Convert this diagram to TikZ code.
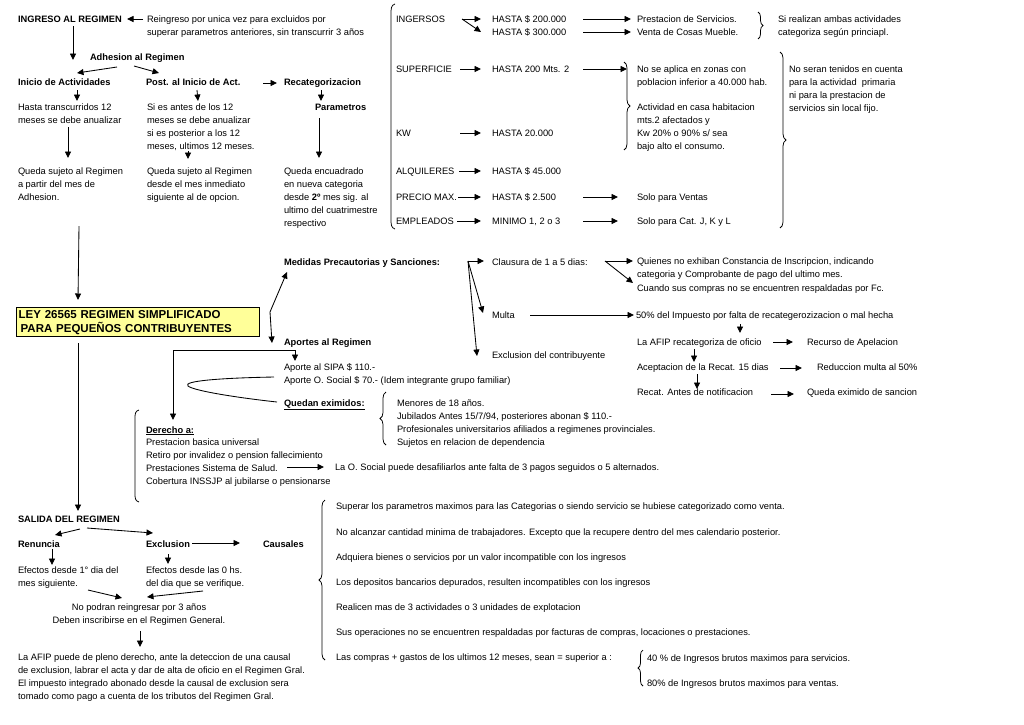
\documentclass[tikz,border=0pt]{standalone}
\usepackage{fontspec}
\setmainfont{Liberation Sans}
\usetikzlibrary{arrows.meta,decorations.pathreplacing}
\newcommand{\nfs}{\fontsize{9.3}{13}\selectfont}
\newcommand{\ml}[1]{\begin{tabular}[t]{@{}l@{}}#1\end{tabular}}
\newcommand{\mc}[1]{\begin{tabular}[t]{@{}c@{}}#1\end{tabular}}
\definecolor{leyfill}{HTML}{FFFF99}
\begin{document}
\begin{tikzpicture}[x=1pt,y=-1pt,line width=0.85pt,
  t/.style={anchor=base west,inner sep=0pt,outer sep=0pt,font=\nfs},
  tb/.style={t,font=\nfs\bfseries},
  arr/.style={-{Triangle[length=6.5pt,width=6pt]}},
  brc/.style={decorate,decoration={brace,amplitude=#1},line width=0.75pt},
]
\fill[white] (0,0) rectangle (1024,724);
\useasboundingbox (0,0) rectangle (1024,724);

% ---------------- top left ----------------
\node[tb] (ingreso) at (18,22) {INGRESO AL REGIMEN};
\node[t] (reing) at (147,22) {\ml{Reingreso por unica vez para excluidos por\\superar parametros anteriores, sin transcurrir 3 años}};
\node[tb] (adh) at (90,60) {Adhesion al Regimen};
\node[tb] (inicio) at (18,85) {Inicio de Actividades};
\node[tb] (post) at (146,85) {Post. al Inicio de Act.};
\node[tb] (recat) at (284,85) {Recategorizacion};
\node[t] (hasta) at (18,110) {\ml{Hasta transcurridos 12\\meses se debe anualizar}};
\node[t] (siantes) at (147,110) {\ml{Si es antes de los 12\\meses se debe anualizar\\si es posterior a los 12\\meses, ultimos 12 meses.}};
\node[tb] (param) at (315,110) {Parametros};
\node[t] (qs1) at (18,174) {\ml{Queda sujeto al Regimen\\a partir del mes de\\Adhesion.}};
\node[t] (qs2) at (147,174) {\ml{Queda sujeto al Regimen\\desde el mes inmediato\\siguiente al de opcion.}};
\node[t] (qenc) at (284,174) {\ml{Queda encuadrado\\en nueva categoria\\desde \textbf{2º} mes sig. al\\ultimo del cuatrimestre\\respectivo}};

\draw[arr] ([shift={(-4,-3)}]reing.base west) -- ([shift={(109,-3)}]ingreso.base west);
\draw[arr] ([shift={(55,4)}]ingreso.base west) -- ([shift={(55,-25)}]inicio.base west);
\draw[arr] ([shift={(27,7)}]adh.base west) -- ([shift={(59,-12)}]inicio.base west);
\draw[arr] ([shift={(44,6)}]adh.base west) -- ([shift={(13,-12)}]post.base west);
\draw[arr] ([shift={(117,-2)}]post.base west) -- ([shift={(-7,-2)}]recat.base west);
\draw[arr] ([shift={(59,5)}]inicio.base west) -- ([shift={(59,-9)}]hasta.base west);
\draw[arr] ([shift={(51,5)}]post.base west) -- ([shift={(51,-9)}]siantes.base west);
\draw[arr] ([shift={(37,5)}]recat.base west) -- ([shift={(6,-9)}]param.base west);
\draw[arr] ([shift={(50,17)}]hasta.base west) -- ([shift={(50,-16)}]qs1.base west);
\draw[arr] ([shift={(41,41)}]siantes.base west) -- ([shift={(41,-15)}]qs2.base west);
\draw[arr] ([shift={(4,8)}]param.base west) -- ([shift={(35,-16)}]qenc.base west);

% ---------------- LEY box ----------------
\node[draw,line width=1.3pt,fill=leyfill,anchor=north west,minimum width=243pt,minimum height=29pt,
  inner sep=0pt,text width=239pt,align=left,font=\fontsize{11.5}{14}\selectfont\bfseries] (ley) at (16,307)
  {LEY 26565 REGIMEN SIMPLIFICADO\\\hspace*{2pt}PARA PEQUEÑOS CONTRIBUYENTES};
\draw[arr] ([shift={(61,52)}]qs1.base west) -- ([shift={(62,-7)}]ley.north west);

% ---------------- parameters column ----------------
\draw[line width=0.75pt] (395,4) .. controls (391,5) and (391,9) .. (391,14) -- (391,219) .. controls (391,224) and (391,228) .. (395,229);
\node[t] (ingersos) at (396,22) {INGERSOS};
\node[t] (h200) at (492,22) {HASTA \$ 200.000};
\node[t] (h300) at (492,35) {HASTA \$ 300.000};
\node[t] (prest) at (637,22) {Prestacion de Servicios.};
\node[t] (venta) at (637,35) {Venta de Cosas Mueble.};
\node[t] (sireal) at (778,22) {\ml{Si realizan ambas actividades\\categoriza según princiapl.}};
\node[t] (superf) at (396,72) {SUPERFICIE};
\node[t] (h200m) at (492,72) {HASTA 200 Mts. 2};
\node[t] (noapl) at (637,72) {\ml{No se aplica en zonas con\\poblacion inferior a 40.000 hab.}};
\node[t] (activ) at (637,110) {\ml{Actividad en casa habitacion\\mts.2 afectados y\\Kw 20\% o 90\% s/ sea\\bajo alto el consumo.}};
\node[t] (kw) at (396,136) {KW};
\node[t] (h20k) at (492,136) {HASTA 20.000};
\node[t] (alq) at (396,174) {ALQUILERES};
\node[t] (h45) at (492,174) {HASTA \$ 45.000};
\node[t] (precio) at (396,200) {PRECIO MAX.};
\node[t] (h2500) at (492,200) {HASTA \$ 2.500};
\node[t] (ventas) at (637,200) {Solo para Ventas};
\node[t] (empl) at (396,224) {EMPLEADOS};
\node[t] (minimo) at (492,224) {MINIMO 1, 2 o 3};
\node[t] (catj) at (637,224) {Solo para Cat. J, K y L};
\node[t] (noseran) at (789,72) {\ml{No seran tenidos en cuenta\\para la actividad \ primaria\\ni para la prestacion de\\servicios sin local fijo.}};

\draw[arr] ([shift={(66,-3)}]ingersos.base west) -- ([shift={(-11,-3)}]h200.base west);
\draw[arr] ([shift={(66,-3)}]ingersos.base west) -- ([shift={(-11,-3)}]h300.base west);
\draw[arr] ([shift={(91,-3)}]h200.base west) -- ([shift={(-6,-3)}]prest.base west);
\draw[arr] ([shift={(91,-3)}]h300.base west) -- ([shift={(-6,-3)}]venta.base west);
\draw[arr] ([shift={(64,-3)}]superf.base west) -- ([shift={(-11,-3)}]h200m.base west);
\draw[arr] ([shift={(91,-3)}]h200m.base west) -- ([shift={(-10,-3)}]noapl.base west);
\draw[arr] ([shift={(64,-3)}]kw.base west) -- ([shift={(-11,-3)}]h20k.base west);
\draw[arr] ([shift={(63,-3)}]alq.base west) -- ([shift={(-11,-3)}]h45.base west);
\draw[arr] ([shift={(62,-3)}]precio.base west) -- ([shift={(-11,-3)}]h2500.base west);
\draw[arr] ([shift={(91,-3)}]h2500.base west) -- ([shift={(-19,-3)}]ventas.base west);
\draw[arr] ([shift={(61,-3)}]empl.base west) -- ([shift={(-11,-3)}]minimo.base west);
\draw[arr] ([shift={(91,-3)}]minimo.base west) -- ([shift={(-19,-3)}]catj.base west);

\draw[brc=5] (758,12) -- (758,39);
\draw[brc=6] (624,62) -- (624,150);
\draw[brc=6] (780,52) -- (780,228);

% ---------------- medidas / aportes ----------------
\coordinate (z) at (270,312);
\node[tb] (medidas) at (284,265) {Medidas Precautorias y Sanciones:};
\node[tb] (aportes) at (284,345) {Aportes al Regimen};
\node[t] (sipa) at (284,370) {\ml{Aporte al SIPA \$ 110.-\\Aporte O. Social \$ 70.- (Idem integrante grupo familiar)}};
\node[tb] (eximidos) at (284,406) {\underline{Quedan eximidos:}};
\node[t] (menores) at (397,406) {\ml{Menores de 18 años.\\Jubilados Antes 15/7/94, posteriores abonan \$ 110.-\\Profesionales universitarios afiliados a regimenes provinciales.\\Sujetos en relacion de dependencia}};
\draw[brc=6] (386,445) -- (386,392);

\draw[arr] (z) -- ([shift={(3,7)}]medidas.base west);
\draw[arr] (z) -- ([shift={(-12,-2)}]aportes.base west);

\node[tb] (derecho) at (146,433) {\underline{Derecho a:}};
\node[t] (dlist) at (146,445) {\ml{Prestacion basica universal\\Retiro por invalidez o pension fallecimiento\\Prestaciones Sistema de Salud.\\Cobertura INSSJP al jubilarse o pensionarse}};
\node[t] (osocial) at (335,470) {La O. Social puede desafiliarlos ante falta de 3 pagos seguidos o 5 alternados.};
\draw[line width=0.75pt] (139,410) .. controls (135,411) and (135,414) .. (135,419) -- (135,493) .. controls (135,498) and (135,501) .. (139,502);

\coordinate (jn) at ([shift={(11,5)}]aportes.base west);
\draw[arr] (jn) -- ([shift={(11,-9)}]sipa.base west);
\draw[arr] (jn) -| ([shift={(27,-13)}]derecho.base west);
\draw ([shift={(-10,7)}]sipa.base west) .. controls (220,378) and (182,381) .. (188,386)
      .. controls (194,391) and (240,398) .. ([shift={(-7,-4)}]eximidos.base west);
\draw[arr] ([shift={(141,22)}]dlist.base west) -- ([shift={(-11,-3)}]osocial.base west);

% ---------------- sanciones ----------------
\node[t] (clausura) at (492,265) {Clausura de 1 a 5 dias:};
\node[t] (multa) at (492,318) {Multa};
\node[t] (exclc) at (492,358) {Exclusion del contribuyente};
\node[t] (quienes) at (637,264) {\ml{Quienes no exhiban Constancia de Inscripcion, indicando\\categoria y Comprobante de pago del ultimo mes.}};
\node[t] (cuando) at (637,291) {Cuando sus compras no se encuentren respaldadas por Fc.};
\node[t] (pct50) at (636,318) {50\% del Impuesto por falta de recategerozizacion o mal hecha};
\node[t] (afip) at (637,345) {La AFIP recategoriza de oficio};
\node[t] (recurso) at (807,345) {Recurso de Apelacion};
\node[t] (acept) at (637,370) {Aceptacion de la Recat. 15 dias};
\node[t] (reduc) at (817,370) {Reduccion multa al 50\%};
\node[t] (recant) at (637,395) {Recat. Antes de notificacion};
\node[t] (queda) at (807,395) {Queda eximido de sancion};

\coordinate (mo) at ([shift={(184,-4)}]medidas.base west);
\draw[arr] (mo) -- ([shift={(-8,-4)}]clausura.base west);
\draw[arr] (mo) -- ([shift={(-9,-5)}]multa.base west);
\draw[arr] (mo) -- ([shift={(-15,-2)}]exclc.base west);
\coordinate (qo) at ([shift={(113,-4)}]clausura.base west);
\draw[arr] (qo) -- ([shift={(-4,-3)}]quienes.base west);
\draw[arr] (qo) -- ([shift={(-4,-8)}]cuando.base west);
\draw[arr] ([shift={(38,-3)}]multa.base west) -- ([shift={(-2,-3)}]pct50.base west);
\draw[arr] ([shift={(104,6)}]pct50.base west) -- ([shift={(103,-12)}]afip.base west);
\draw[arr] ([shift={(136,-3)}]afip.base west) -- ([shift={(-14,-3)}]recurso.base west);
\draw[arr] ([shift={(57,4)}]afip.base west) -- ([shift={(57,-8)}]acept.base west);
\draw[arr] ([shift={(143,-2)}]acept.base west) -- ([shift={(-15,-2)}]reduc.base west);
\draw[arr] ([shift={(60,4)}]acept.base west) -- ([shift={(60,-6)}]recant.base west);
\draw[arr] ([shift={(134,-1)}]recant.base west) -- ([shift={(-13,-1)}]queda.base west);

% ---------------- salida ----------------
\node[tb] (salida) at (18,522) {SALIDA DEL REGIMEN};
\node[tb] (renuncia) at (18,547) {Renuncia};
\node[tb] (exclu) at (146,547) {Exclusion};
\node[tb] (causales) at (263,547) {Causales};
\node[t] (ef1) at (18,573) {\ml{Efectos desde 1° dia del\\mes siguiente.}};
\node[t] (ef2) at (146,573) {\ml{Efectos desde las 0 hs.\\del dia que se verifique.}};
\node[t,anchor=base] (nopod) at (139,610) {\mc{No podran reingresar por 3 años\\Deben inscribirse en el Regimen General.}};
\node[t] (lafip) at (18,660) {\ml{La AFIP puede de pleno derecho, ante la deteccion de una causal\\de exclusion, labrar el acta y dar de alta de oficio en el Regimen Gral.\\El impuesto integrado abonado desde la causal de exclusion sera\\tomado como pago a cuenta de los tributos del Regimen Gral.}};

\draw[arr] ([shift={(62,6)}]ley.south west) -- ([shift={(60,-11)}]salida.base west);
\draw[arr] ([shift={(62,7)}]salida.base west) -- ([shift={(37,-12)}]renuncia.base west);
\draw[arr] ([shift={(69,6)}]salida.base west) -- ([shift={(7,-14)}]exclu.base west);
\draw[arr] ([shift={(46,-4)}]exclu.base west) -- ([shift={(-23,-4)}]causales.base west);
\draw[arr] ([shift={(34,2)}]renuncia.base west) -- ([shift={(34,-8)}]ef1.base west);
\draw[arr] ([shift={(22,7)}]exclu.base west) -- ([shift={(22,-9)}]ef2.base west);
\draw[arr] ([shift={(70,17)}]ef1.base west) -- ([shift={(-17,-12)}]nopod.base);
\draw[arr] ([shift={(57,18)}]ef2.base west) -- ([shift={(8,-13)}]nopod.base);
\draw[arr] ([shift={(1,21)}]nopod.base) -- ([shift={(122,-13)}]lafip.base west);

% ---------------- causales ----------------
\draw[brc=6] (325,660) -- (325,500);
\node[t] (c1) at (336,509) {Superar los parametros maximos para las Categorias o siendo servicio se hubiese categorizado como venta.};
\node[t] (c2) at (336,535) {No alcanzar cantidad minima de trabajadores. Excepto que la recupere dentro del mes calendario posterior.};
\node[t] (c3) at (336,560) {Adquiera bienes o servicios por un valor incompatible con los ingresos};
\node[t] (c4) at (336,585) {Los depositos bancarios depurados, resulten incompatibles con los ingresos};
\node[t] (c5) at (336,610) {Realicen mas de 3 actividades o 3 unidades de explotacion};
\node[t] (c6) at (336,635) {Sus operaciones no se encuentren respaldadas por facturas de compras, locaciones o prestaciones.};
\node[t] (c7) at (336,660) {Las compras + gastos de los ultimos 12 meses, sean = superior a :};
\draw[brc=5] (643,686) -- (643,650);
\node[t] (pct40) at (647,661) {40 \% de Ingresos brutos maximos para servicios.};
\node[t] (pct80) at (647,686) {80\% de Ingresos brutos maximos para ventas.};
\end{tikzpicture}
\end{document}
